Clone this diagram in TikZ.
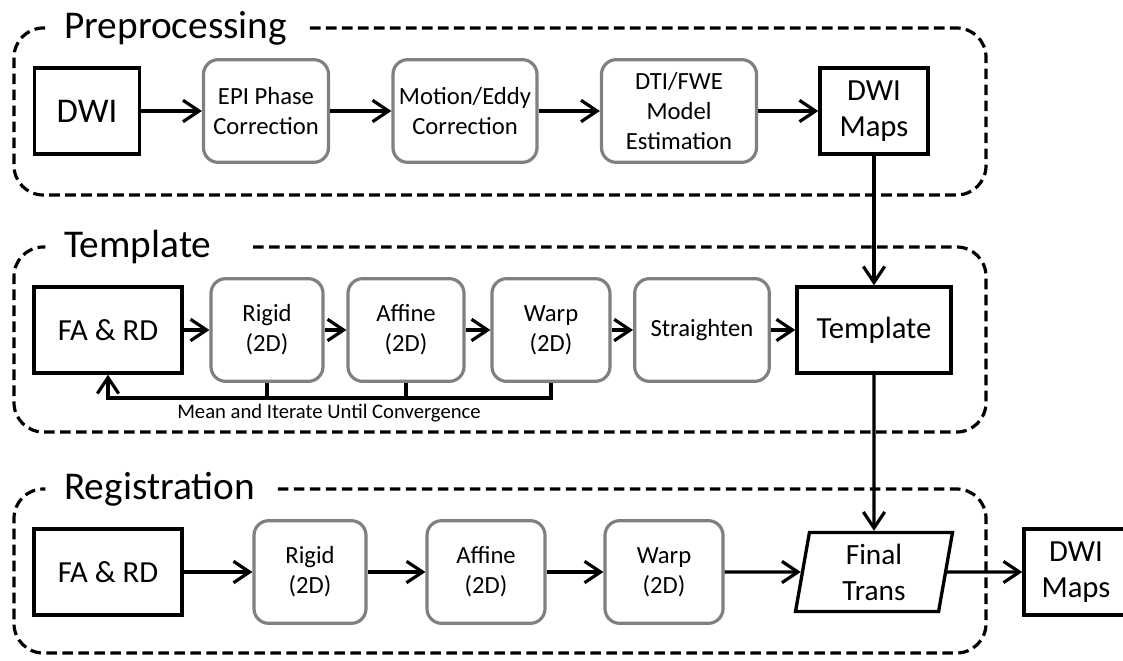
\documentclass[tikz,border=0pt]{standalone}
\usepackage{fontspec}
\setmainfont{Carlito}
\usetikzlibrary{positioning, arrows.meta, shapes.geometric}

\begin{document}
\begin{tikzpicture}[x=0.75pt, y=-0.75pt,
  outbox/.style={draw, line width=2.5pt, minimum height=64.5pt, align=center, font=\fontsize{23}{27.5}\selectfont},
  stepbox/.style={draw=black!50, rounded corners=11pt, line width=2.4pt, minimum height=77pt, align=center, font=\fontsize{18.5}{22.5}\selectfont},
  grouplabel/.style={anchor=west, inner xsep=0pt, font=\fontsize{29.5}{34}\selectfont},
  groupframe/.style={line width=2.4pt, dash pattern=on 8pt off 4pt, rounded corners=22pt},
  conn/.style={line width=2.4pt, -{Straight Barb[length=12pt, width=16pt]}},
  loopnote/.style={font=\fontsize{15.5}{18}\selectfont}]

\useasboundingbox (0,0) rectangle (1123,660);

% preprocessing
\node[grouplabel] (lprep) at (64,28) {Preprocessing};
\draw[groupframe] ([xshift=17pt]lprep.east) -| (986,195) -| (14,28) -- ([xshift=-14pt]lprep.west);
\node[outbox, minimum width=78.75pt, font=\fontsize{26}{30}\selectfont] (pdwi) at (87,111) {DWI};
\node[stepbox, minimum width=93.75pt] (pepi) at (266,111) {EPI Phase\\Correction};
\node[stepbox, minimum width=108pt] (pmotion) at (465,111) {Motion/Eddy\\Correction};
\node[stepbox, minimum width=116.25pt] (pmodel) at (679,111) {DTI/FWE\\Model\\Estimation};
\node[outbox, minimum width=81pt] (pmaps) at (874,111) {DWI\\Maps};
\draw[conn] (pdwi) -- (pepi);
\draw[conn] (pepi) -- (pmotion);
\draw[conn] (pmotion) -- (pmodel);
\draw[conn] (pmodel) -- (pmaps);

% template
\node[grouplabel] (ltemp) at (64,247) {Template};
\draw[groupframe] ([xshift=31pt]ltemp.east) -| (986,432) -| (14,247) -- ([xshift=-14pt]ltemp.west);
\node[outbox, minimum width=111pt] (tfa) at (108,330) {FA \& RD};
\node[stepbox, minimum width=84pt] (trigid) at (267,330) {Rigid\\(2D)};
\node[stepbox, minimum width=87pt] (taffine) at (406,330) {Affine\\(2D)};
\node[stepbox, minimum width=88.5pt] (twarp) at (551,330) {Warp\\(2D)};
\node[stepbox, minimum width=101pt] (tstraight) at (702,330) {Straighten};
\node[outbox, minimum width=115.5pt] (ttemp) at (874,330) {Template};
\draw[conn] (tfa) -- (trigid);
\draw[conn] (trigid) -- (taffine);
\draw[conn] (taffine) -- (twarp);
\draw[conn] (twarp) -- (tstraight);
\draw[conn] (tstraight) -- (ttemp);
\coordinate (loopy) at (0,398);
\draw[conn] (twarp.south) |- (tfa |- loopy) -- (tfa.south);
\draw[line width=2.4pt] (trigid.south) -- (trigid |- loopy);
\draw[line width=2.4pt] (taffine.south) -- (taffine |- loopy);
\node[loopnote] (loopnote) at (329,413) {Mean and Iterate Until Convergence};
\draw[conn] (pmaps) -- (ttemp);

% registration
\node[grouplabel] (lreg) at (64,489) {Registration};
\draw[groupframe] ([xshift=17pt]lreg.east) -| (986,653) -| (14,489) -- ([xshift=-14pt]lreg.west);
\node[outbox, minimum width=111pt] (rfa) at (108,572) {FA \& RD};
\node[stepbox, minimum width=84pt] (rrigid) at (310,572) {Rigid\\(2D)};
\node[stepbox, minimum width=88.5pt] (raffine) at (486,572) {Affine\\(2D)};
\node[stepbox, minimum width=88.5pt] (rwarp) at (664,572) {Warp\\(2D)};
\node[draw, line width=2.5pt, trapezium, trapezium left angle=78, trapezium right angle=102, trapezium stretches body,
  minimum width=117.75pt, minimum height=59.25pt, align=center, font=\fontsize{22}{27}\selectfont] (ftrans) at (874,572) {Final\\Trans};
\node[outbox, minimum width=78pt] (rmaps) at (1076,572) {DWI\\Maps};
\draw[conn] (rfa) -- (rrigid);
\draw[conn] (rrigid) -- (raffine);
\draw[conn] (raffine) -- (rwarp);
\draw[conn] (rwarp) -- (ftrans);
\draw[conn] (ftrans) -- (rmaps);
\draw[conn] (ttemp) -- (ftrans);
\end{tikzpicture}
\end{document}
